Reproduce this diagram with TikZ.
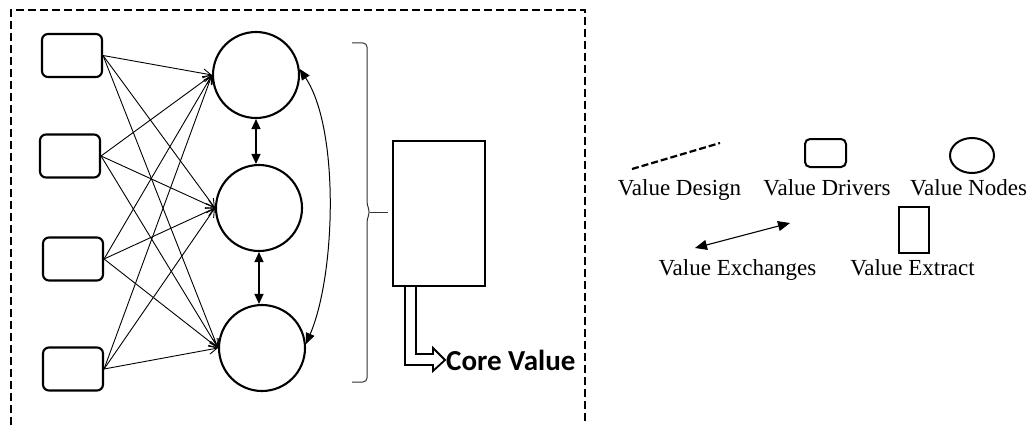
\documentclass[tikz,border=0pt]{standalone}
\usepackage{fontspec}
\setmainfont{Liberation Serif}
\newfontfamily\corefont{Carlito}
\usetikzlibrary{arrows.meta,calc,shapes.geometric}
\begin{document}
\begin{tikzpicture}[x=1pt,y=-1pt,
 driver/.style={draw,line width=2.1pt,rounded corners=6pt,minimum width=60pt,minimum height=43pt,inner sep=0pt},
 vnode/.style={draw,line width=2.1pt,circle,minimum size=86pt,inner sep=0pt},
 flow/.style={line width=0.9pt,-{Straight Barb[length=8pt,width=9pt]}},
 exch/.style={line width=1.4pt,{Triangle[length=10pt,width=9pt]}-{Triangle[length=10pt,width=9pt]}},
 extract/.style={draw,line width=2.1pt,minimum width=92pt,minimum height=145pt,inner sep=0pt},
 frame/.style={line width=2.4pt,dash pattern=on 8pt off 4pt},
 legend/.style={font=\fontsize{23}{26}\selectfont,anchor=base,inner sep=0pt}]
\useasboundingbox (0,0) rectangle (1035,425);

% frame
\coordinate (fbl) at (11,425);
\coordinate (ftl) at (11,10);
\coordinate (ftr) at (585,10);
\coordinate (fbr) at (585,425);
\draw[frame] (fbl) -- (ftl) -- (ftr) -- (fbr);

% drivers
\node[driver] (d1) at (72,55.5) {};
\node[driver] (d2) at (70,156) {};
\node[driver] (d3) at (73,259) {};
\node[driver] (d4) at (73,369) {};

% value nodes
\node[vnode] (c1) at (256,75) {};
\node[vnode] (c2) at (259,208) {};
\node[vnode] (c3) at (262,348) {};

% flows
\foreach \d in {d1,d2,d3,d4}{
  \foreach \c in {c1,c2,c3}{
    \draw[flow] (\d.east) -- (\c.west);
  }
}

% exchanges
\draw[exch] (c1.south) -- (c1.south |- c2.north);
\draw[exch] (c2.south) -- (c2.south |- c3.north);
\draw[line width=1pt,{Triangle[length=11pt,width=9pt]}-{Triangle[length=11pt,width=9pt]}]
  (c1.8) .. controls +(40,60) and +(30,-70) .. (c3.5);

% brace
\draw[line width=1pt,draw=black!80,rounded corners=4pt]
  (352,43) -| (367,205) -- (370,212) -- (367,219) |- (352,382);
\draw[line width=1pt,draw=black!80] (370,212) -- (388,212);

% extract
\node[extract] (ext) at (439,213.5) {};
\node[anchor=west,inner sep=0pt,font=\corefont\bfseries\fontsize{29}{31}\selectfont] (core) at (446,360) {Core Value};
\draw[line width=1.8pt]
  ($(ext.south west)+(13,0)$) |- ($(core.west)+(-13,5)$) -- ++(0,6)
  -- ($(core.west)+(-1,0)$) -- ++(-12,-12) -- ++(0,6) -| ($(ext.south west)+(24,0)$);

% legend
\coordinate (ld1) at (632,169);
\coordinate (ld2) at (720,143);
\draw[line width=2.2pt,dash pattern=on 7pt off 3pt] (ld1) -- (ld2);
\node[legend] (lt1) at (679.5,195) {Value Design};
\node[draw,line width=2pt,rounded corners=5pt,minimum width=41pt,minimum height=28pt,inner sep=0pt] (lbox) at (825.5,153) {};
\node[legend] (lt2) at (827,195) {Value Drivers};
\node[draw,line width=2pt,ellipse,minimum width=44pt,minimum height=35pt,inner sep=0pt] (lell) at (972,155.5) {};
\node[legend] (lt3) at (968.5,195) {Value Nodes};
\coordinate (la1) at (695,248);
\coordinate (la2) at (790,223);
\draw[line width=1.1pt,{Triangle[length=12pt,width=10pt]}-{Triangle[length=12pt,width=10pt]}] (la1) -- (la2);
\node[legend] (lt4) at (737.5,275) {Value Exchanges};
\node[draw,line width=2pt,minimum width=30pt,minimum height=46pt,inner sep=0pt] (lrect) at (914,230) {};
\node[legend] (lt5) at (912.5,275) {Value Extract};
\end{tikzpicture}
\end{document}
